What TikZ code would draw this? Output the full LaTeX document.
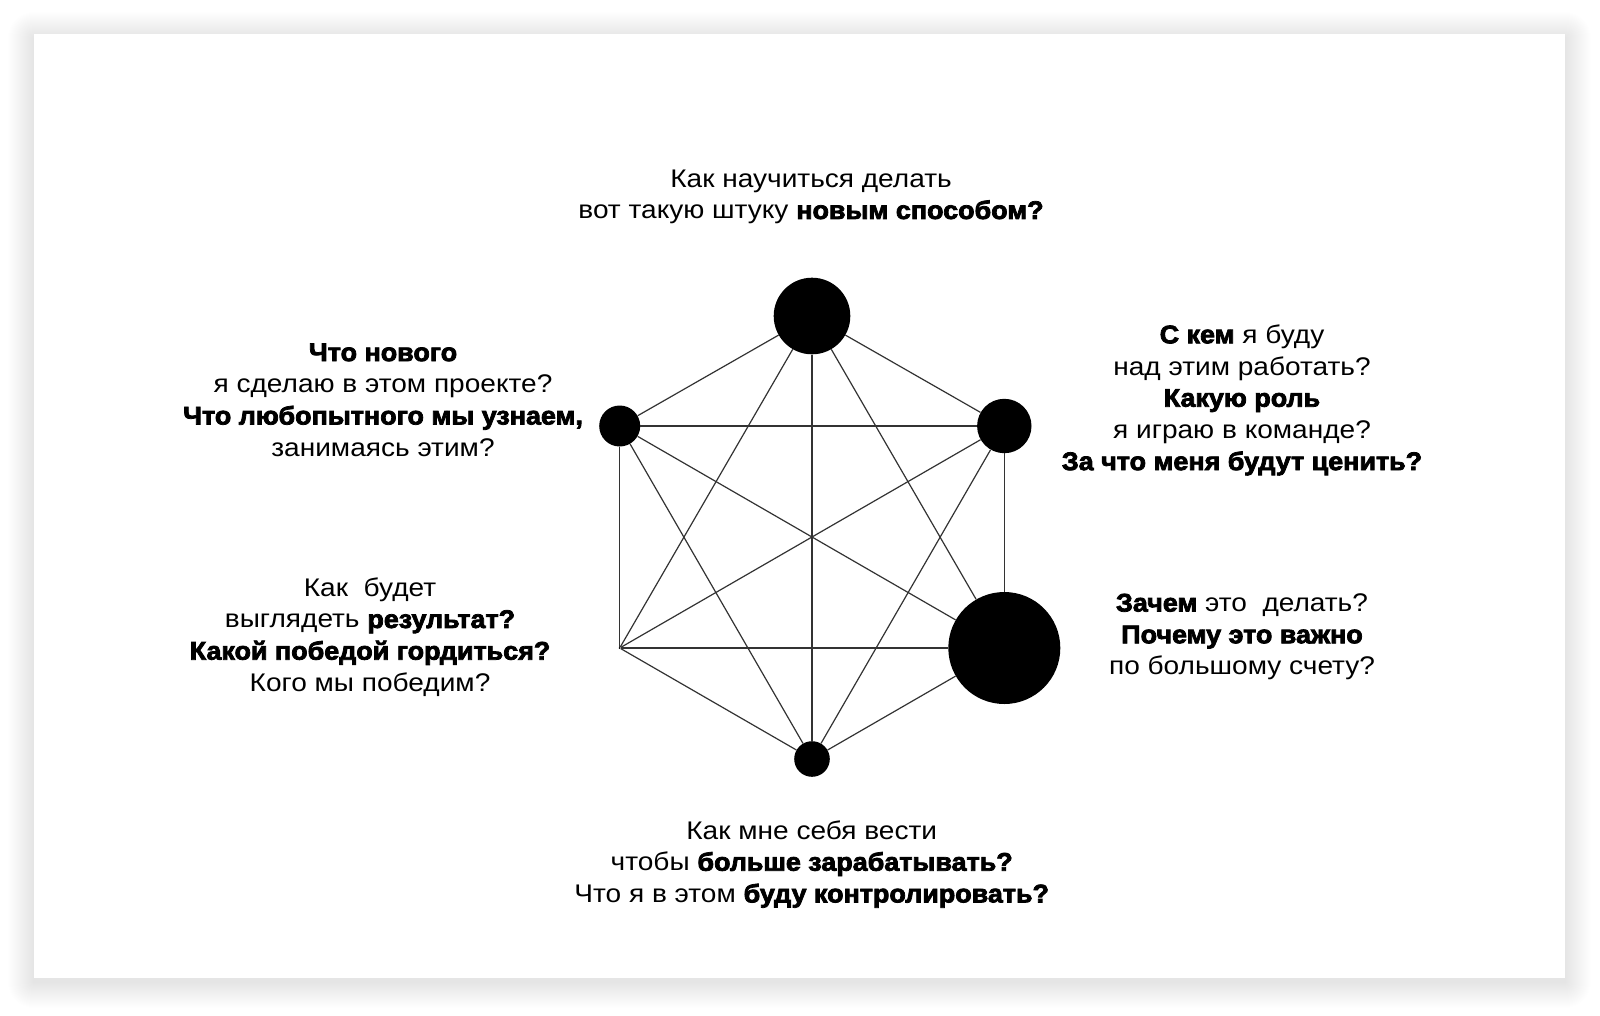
\documentclass[tikz,border=0pt]{standalone}
\usepackage{fontspec}
\setmainfont{Liberation Sans}[FakeStretch=1.1, BoldFeatures={FakeStretch=1.055, FakeBold=3}]
\begin{document}
\begin{tikzpicture}[x=1pt,y=-1pt,
  vtx/.style={circle, fill=black, draw=none, inner sep=0pt},
  link/.style={draw=black!80, line width=1.2pt},
  qtext/.style={align=center, inner sep=0pt, text=black,
    font=\fontsize{25.5}{31.7}\selectfont}]
\useasboundingbox (0,0) rectangle (1600,1015);
\fill[white] (0,0) rectangle (1600,1015);
% card shadow
\foreach \i in {1,...,26}{
  \fill[black, opacity=0.0035, rounded corners=\i pt] (34-\i,34-\i+4) rectangle (1565+\i,978+\i+4);
}
\fill[white] (34,34) rectangle (1565,978);

% vertices
\node[vtx, minimum size=76.6pt] (vt)  at (812,316) {};
\node[vtx, minimum size=54.4pt] (vur) at (1004.3,426) {};
\node[vtx, minimum size=112pt]  (vlr) at (1004.3,648) {};
\node[vtx, minimum size=35.6pt] (vb)  at (812,759) {};
\node[vtx, minimum size=2pt]    (vll) at (619.7,648) {};
\node[vtx, minimum size=41pt]   (vul) at (619.7,426) {};

% connectors
\draw[link] (vt) -- (vur);
\draw[link] (vt) -- (vlr);
\draw[link] (vt) -- (vb);
\draw[link] (vt) -- (vll);
\draw[link] (vt) -- (vul);
\draw[link] (vur) -- (vlr);
\draw[link] (vur) -- (vb);
\draw[link] (vur) -- (vll);
\draw[link] (vur) -- (vul);
\draw[link] (vlr) -- (vb);
\draw[link] (vlr) -- (vll);
\draw[link] (vlr) -- (vul);
\draw[link] (vb) -- (vll);
\draw[link] (vb) -- (vul);
\draw[link] (vll) -- (vul);

% texts
\node[qtext] (tt) at (811,197) {Как научиться делать\\вот такую штуку \textbf{новым способом?}};
\node[qtext] (tul) at (383,400) {\textbf{Что нового}\\я сделаю в этом проекте?\\\textbf{Что любопытного мы узнаем,}\\занимаясь этим?};
\node[qtext] (tur) at (1242,400) {\textbf{С кем} я буду\\над этим работать?\\\textbf{Какую роль}\\я играю в команде?\\\textbf{За что меня будут ценить?}};
\node[qtext] (tlr) at (1242,637) {\textbf{Зачем} это\ \ делать?\\\textbf{Почему это важно}\\по большому счету?};
\node[qtext] (tll) at (370,637) {Как\ \ будет\\выглядеть \textbf{результат?}\\\textbf{Какой победой гордиться?}\\Кого мы победим?};
\node[qtext] (tb) at (811.7,864) {Как мне себя вести\\чтобы \textbf{больше зарабатывать?}\\Что я в этом \textbf{буду контролировать?}};
\end{tikzpicture}
\end{document}
